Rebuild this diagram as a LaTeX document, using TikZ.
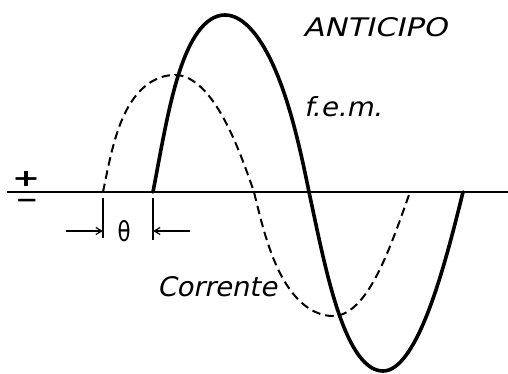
\documentclass[tikz,border=0pt]{standalone}
\usepackage{fontspec}
\usepackage{graphicx}
\usetikzlibrary{arrows.meta}
\newfontfamily\lett[FakeSlant=0.2]{DejaVu Sans}
\newfontfamily\lettup{DejaVu Sans}
\tikzset{
  x=1pt, y=1pt,
  declare function={qx(\t,\xo,\h,\s,\k)=\xo+\h/180*(\t-57.2958*\k*sin(2*\t))+\s*sin(\t)*sin(\t);},
  axisline/.style={line width=1.8pt},
  femcurve/.style={line width=3.6pt, line cap=round, line join=round},
  curcurve/.style={line width=2pt, dash pattern=on 8.5pt off 5pt},
  tickline/.style={line width=1.3pt},
  dimarrow/.style={line width=1.2pt, -{Straight Barb[length=6pt,width=7pt]}},
  lbl/.style={inner sep=0pt, outer sep=0pt}
}
\begin{document}
\begin{tikzpicture}[samples=45, variable=\t]
\useasboundingbox (0,0) rectangle (508,374);
% axis
\coordinate (axL) at (7,182);
\coordinate (axR) at (508,182);
\draw[axisline] (axL) -- (axR);
% f.e.m. (solid)
\draw[femcurve]
  plot[domain=0:90] ({qx(\t,153,156,-6,0.16)}, {182+177*sin(\t)})
  -- plot[domain=90:180] ({qx(\t,153,156,-6,0.14)}, {182+177*sin(\t)})
  -- plot[domain=0:90] ({qx(\t,309,154,-3,0.11)}, {182-179*sin(\t)})
  -- plot[domain=90:180] ({qx(\t,309,154,-3,0.05)}, {182-179*sin(\t)});
% corrente (dashed)
\draw[curcurve]
  plot[domain=0:90] ({qx(\t,103,151,-3.5,0.25)}, {182+117*sin(\t)})
  -- plot[domain=90:180] ({qx(\t,103,151,-3.5,0.08)}, {182+117*sin(\t)})
  -- plot[domain=0:90] ({qx(\t,254,156,1,0.2)}, {182-124*sin(\t)})
  -- plot[domain=90:180] ({qx(\t,254,156,1,0.06)}, {182-124*sin(\t)});
% theta ticks and arrows
\coordinate (t1a) at (103,176);
\coordinate (t1b) at (103,136);
\coordinate (t2a) at (153,176);
\coordinate (t2b) at (153,134);
\draw[tickline] (t1a) -- (t1b);
\draw[tickline] (t2a) -- (t2b);
\coordinate (a1s) at (66,143);
\coordinate (a1e) at (103,143);
\coordinate (a2s) at (190,143);
\coordinate (a2e) at (153,143);
\draw[dimarrow] (a1s) -- (a1e);
\draw[dimarrow] (a2s) -- (a2e);
\node[lbl] (theta) at (124,143) {\resizebox{13pt}{21pt}{\lettup θ}};
% labels
\node[lbl, anchor=south west] (antic) at (303,337) {\resizebox{144pt}{19pt}{\lett ANTICIPO}};
\node[lbl, anchor=base west] (fem) at (304,257) {\resizebox{78pt}{20pt}{\lett f.e.m.}};
\node[lbl, anchor=base west] (corr) at (157,77) {\resizebox{120pt}{20pt}{\lett Corrente}};
\node[lbl] (plus) at (26,195) {\resizebox{28pt}{15pt}{\lettup\bfseries +}};
\node[lbl] (minus) at (27,171) {\scalebox{1.25}[1]{\fontsize{22}{22}\selectfont\lettup\bfseries −}};
\end{tikzpicture}
\end{document}
